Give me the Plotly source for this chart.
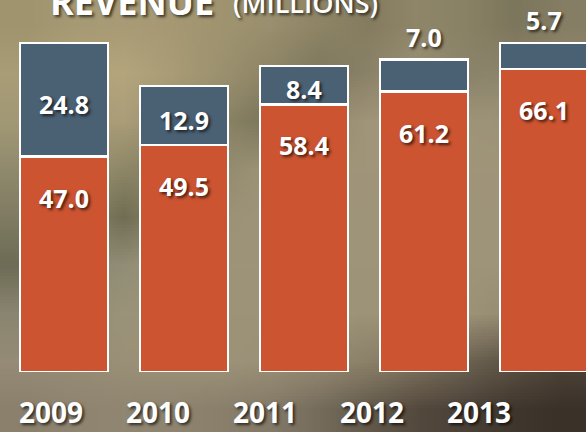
import base64
import struct
import zlib

import plotly.graph_objects as go

years = ["2009", "2010", "2011", "2012", "2013"]
base_vals = [47.0, 49.5, 58.4, 61.2, 66.1]
top_vals = [24.8, 12.9, 8.4, 7.0, 5.7]

ORANGE = "#CC5431"
BLUE = "#4A6073"
FONT = "Open Sans"
SHADOW = "2px 2px 3px rgba(0,0,0,0.65)"

# coarse colour grid imitating the blurred photographic backdrop (style only)
BG_GRID = [
    "#a0946f #a69a74 #a89b75 #a59873 #a09470 #9a8f6e #8e8566 #857c60 #8f8669 #8a8265 #7c765c #857d64",
    "#a99d77 #b0a27a #b4a57c #a99c76 #9c916f #8d8566 #7f785d #8a8268 #9b9075 #8a846a #8c846c #938a70",
    "#a29875 #a89b76 #aa9d78 #9a9171 #8b8466 #7a7459 #948b6f #a09479 #a1967a #9e9479 #9c9277 #9a9077",
    "#908a6d #9a9071 #8e8767 #837d60 #938b6f #9e9478 #a09579 #a09579 #a09579 #a09579 #a09579 #a09579",
    "#7f7b62 #8c866b #6f6d53 #8c866b #9c9277 #9e9479 #9e9479 #9e9479 #9e9479 #9e9479 #9e9479 #9e9479",
    "#6e6c56 #8a8670 #928d76 #9b947a #9e9479 #9e9479 #9e9479 #9e9479 #9e9479 #9e9479 #9e9479 #9e9479",
    "#8a8570 #948e77 #9a9379 #9d9378 #9d9378 #9d9378 #9d9378 #9d9378 #9d9378 #9d9378 #958b72 #8a7f68",
    "#958b76 #978d76 #9a9077 #9c9278 #9d9379 #9a9077 #948a72 #8b8169 #7f745f #6d6352 #5c5244 #4d4338",
    "#8a806c #8e8470 #908671 #8e8470 #8a7f6b #837967 #766c5c #63594b #54493d #4a4036 #3f362d #3a3129",
]


def grid_png(rows):
    raw = b""
    w = 0
    for r in rows:
        cols = r.split()
        w = len(cols)
        raw += b"\x00" + b"".join(bytes.fromhex(c[1:]) for c in cols)
    h = len(rows)

    def chunk(tag, data):
        c = struct.pack(">I", len(data)) + tag + data
        return c + struct.pack(">I", zlib.crc32(tag + data) & 0xFFFFFFFF)

    png = b"\x89PNG\r\n\x1a\n"
    png += chunk(b"IHDR", struct.pack(">IIBBBBB", w, h, 8, 2, 0, 0, 0))
    png += chunk(b"IDAT", zlib.compress(raw))
    png += chunk(b"IEND", b"")
    return "data:image/png;base64," + base64.b64encode(png).decode()


fig = go.Figure()
fig.add_trace(go.Bar(x=years, y=base_vals, width=0.733,
                     marker=dict(color=ORANGE, line=dict(color="white", width=2.5)), hoverinfo="skip"))
fig.add_trace(go.Bar(x=years, y=top_vals, width=0.733,
                     marker=dict(color=BLUE, line=dict(color="white", width=2.5)), hoverinfo="skip"))
# carrier for the year labels axis
fig.add_trace(go.Scatter(x=years, y=[0] * len(years), xaxis="x2", mode="markers",
                         marker=dict(opacity=0), hoverinfo="skip"))

val_font = dict(family=FONT, size=25, color="white", shadow=SHADOW)
for i, (b, t) in enumerate(zip(base_vals, top_vals)):
    fig.add_annotation(x=i, y=b, xref="x", yref="y", text=f"<b>{b:.1f}</b>", showarrow=False,
                       xanchor="center", yanchor="middle", yshift=-41, font=val_font)
    if t >= 8:
        fig.add_annotation(x=i, y=b + t / 2, xref="x", yref="y", text=f"<b>{t:.1f}</b>", showarrow=False,
                           xanchor="center", yanchor="middle", yshift=-4, font=val_font)
    else:
        fig.add_annotation(x=i, y=b + t, xref="x", yref="y", text=f"<b>{t:.1f}</b>", showarrow=False,
                           xanchor="center", yanchor="middle", yshift=23, font=val_font)

fig.add_annotation(x=131.5 / 586, y=1, xref="paper", yref="paper", xanchor="center", yanchor="top", yshift=25,
                   text="<b>REVENUE</b>", showarrow=False,
                   font=dict(family=FONT, size=36, color="white", shadow=SHADOW))
fig.add_annotation(x=305 / 586, y=1, xref="paper", yref="paper", xanchor="center", yanchor="top", yshift=18,
                   text="(MILLIONS)", showarrow=False,
                   font=dict(family=FONT, size=27, color="white", weight=600, shadow=SHADOW))

fig.add_layout_image(dict(source=grid_png(BG_GRID), xref="paper", yref="paper", x=0, y=1,
                          sizex=1, sizey=432 / 372, xanchor="left", yanchor="top",
                          sizing="stretch", layer="below"))

fig.update_layout(
    width=586, height=432,
    margin=dict(l=0, r=0, t=0, b=60),
    barmode="stack",
    showlegend=False,
    paper_bgcolor="#9d9377",
    plot_bgcolor="rgba(0,0,0,0)",
    xaxis=dict(type="category", range=[-0.5333, 4.35], showgrid=False, zeroline=False, showline=False,
               ticks="", showticklabels=False, fixedrange=True),
    xaxis2=dict(type="category", overlaying="x", anchor="y", side="bottom", range=[-0.4766, 5.0],
                showgrid=False, zeroline=False, showline=False, ticks="",
                tickfont=dict(family=FONT, size=28, color="white", weight="bold", shadow=SHADOW),
                ticklabelstandoff=22, fixedrange=True),
    yaxis=dict(range=[0, 81.2], visible=False, fixedrange=True),
)

fig.write_html("out.html")
